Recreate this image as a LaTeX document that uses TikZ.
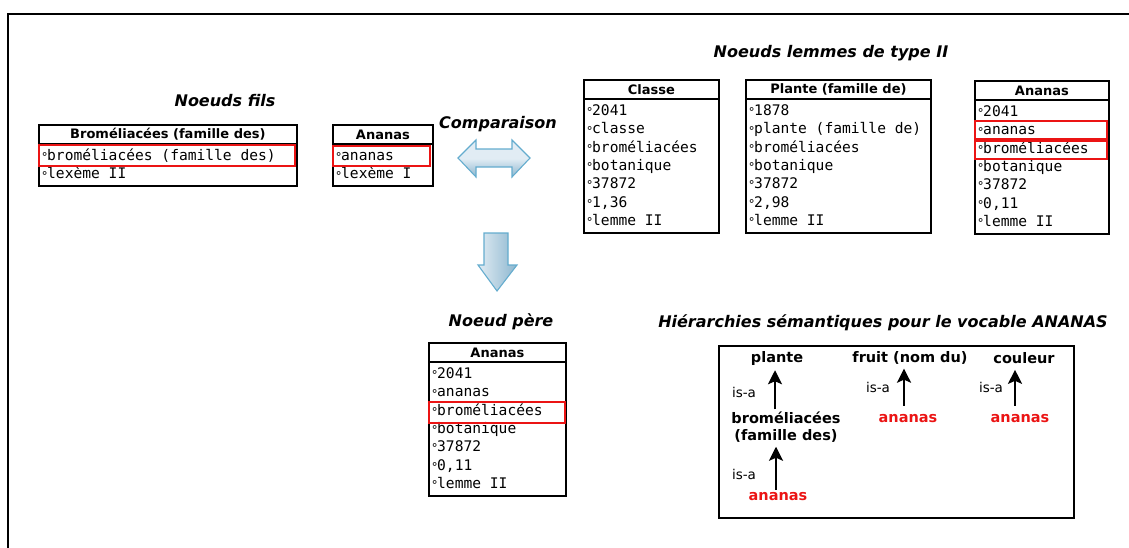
\documentclass[tikz,border=0pt]{standalone}
\usepackage{fontspec}
\setmainfont{DejaVu Sans}
\newfontfamily\mono{DejaVu Sans Mono}
\usetikzlibrary{arrows.meta}
\definecolor{arlight}{RGB}{225,236,244}
\definecolor{ardark}{RGB}{140,182,206}
\definecolor{aredge}{RGB}{100,172,206}
\definecolor{hired}{RGB}{235,20,20}
\newcommand\bl{\makebox[6pt][l]{\raisebox{-1.2pt}{\fontsize{12}{12}\selectfont °}}}
\tikzset{
 frame/.style={line width=2.2pt},
 titl/.style={font=\fontsize{16}{19}\selectfont\bfseries\itshape, inner sep=0pt},
 hdr/.style={font=\fontsize{13}{15}\selectfont\bfseries, inner sep=0pt},
 row/.style={font=\mono\fontsize{14.6}{16}\selectfont, inner sep=0pt, anchor=west, text height=10pt, text depth=3pt},
 boxline/.style={line width=1.8pt},
 redbox/.style={draw=hired, line width=1.9pt},
 hn/.style={font=\fontsize{14.5}{17.5}\selectfont\bfseries, inner sep=1pt, align=center},
 isa/.style={line width=2.4pt, -{Stealth[length=14pt,width=14pt,inset=3pt]}},
 isal/.style={font=\fontsize{13.5}{16}\selectfont, inner sep=0pt},
 bigarrow/.style={draw=aredge, line width=1.1pt},
}
\newcommand\ubox[7]{%
 \node[draw, boxline, anchor=north west, minimum width=#4pt, minimum height=#5pt, inner sep=0pt] (#1) at (#2,#3) {};
 \draw[boxline] ([yshift=-20pt]#1.north west) -- ([yshift=-20pt]#1.north east);
 \node[hdr] (#1-h) at ([yshift=-10.5pt]#1.north) {#6};
 \foreach \r [count=\i] in {#7} {\node[row] (#1-\i) at ([xshift=3pt,yshift={-33pt-(\i-1)*18.3pt}]#1.north west) {\bl\r};}
}
\begin{document}
\begin{tikzpicture}[x=1pt,y=-1pt]
\useasboundingbox (0,0) rectangle (1129,547);
\draw[frame] (8,552) |- (1134,14);

% titles
\node[titl] (tfils) at (225,101) {Noeuds fils};
\node[titl] (tcomp) at (498,124) {Comparaison};
\node[titl] (tlem) at (831,53) {Noeuds lemmes de type II};
\node[titl] (tpere) at (501,322) {Noeud père};
\node[titl] (thier) at (883,323) {Hiérarchies sémantiques pour le vocable ANANAS};

% child nodes
\ubox{fa}{38}{124}{258}{61}{Broméliacées (famille des)}{{broméliacées (famille des)},{lexème II}}
\ubox{fb}{332}{124}{100}{61}{Ananas}{{ananas},{lexème I}}
\draw[redbox] (39,145) rectangle (295,166);
\draw[redbox] (333,146) rectangle (430,166);

% lemma nodes type II
\ubox{cl}{583}{79}{135}{153}{Classe}{{2041},{classe},{broméliacées},{botanique},{37872},{1,36},{lemme II}}
\ubox{pl}{745}{79}{185}{153}{Plante (famille de)}{{1878},{plante (famille de)},{broméliacées},{botanique},{37872},{2,98},{lemme II}}
\ubox{an}{974}{80}{134}{153}{Ananas}{{2041},{ananas},{broméliacées},{botanique},{37872},{0,11},{lemme II}}
\draw[redbox] (975,121) rectangle (1107,139);
\draw[redbox] (975,141) rectangle (1107,159);

% father node
\ubox{pe}{428}{342}{137}{153}{Ananas}{{2041},{ananas},{broméliacées},{botanique},{37872},{0,11},{lemme II}}
\draw[redbox] (429,402) rectangle (565,423);

% comparison double arrow
\shade[top color=arlight, bottom color=ardark, middle color=arlight]
 (458,158) -- (476,140) -- (476,149) -- (512,149) -- (512,140) -- (530,158) -- (512,177) -- (512,167) -- (476,167) -- (476,177) -- cycle;
\draw[bigarrow] (458,158) -- (476,140) -- (476,149) -- (512,149) -- (512,140) -- (530,158) -- (512,177) -- (512,167) -- (476,167) -- (476,177) -- cycle;

% down arrow
\shade[left color=arlight, right color=ardark]
 (484,233) -- (508,233) -- (508,265) -- (517,265) -- (497,291) -- (478,265) -- (484,265) -- cycle;
\draw[bigarrow] (484,233) -- (508,233) -- (508,265) -- (517,265) -- (497,291) -- (478,265) -- (484,265) -- cycle;

% hierarchy box
\node[draw, boxline, anchor=north west, minimum width=355pt, minimum height=172pt, inner sep=0pt] (hbox) at (718,345) {};
\node[hn] (hpl) at (777,358) {plante};
\node[hn] (hfr) at (910,358) {fruit (nom du)};
\node[hn] (hco) at (1024,358) {couleur};
\node[hn] (hbr) at (786,427) {broméliacées\\(famille des)};
\node[hn, text=hired] (ha1) at (778,497) {ananas};
\node[hn, text=hired] (ha2) at (908,419) {ananas};
\node[hn, text=hired] (ha3) at (1020,419) {ananas};
\draw[isa] ([xshift=-2pt,yshift=2pt]ha1.north) -- ([xshift=-2pt,yshift=-3pt]ha1.north |- hbr.south);
\draw[isa] ([xshift=-11pt,yshift=1pt]hbr.north) -- ([xshift=-11pt,yshift=-4pt]hbr.north |- hpl.south);
\draw[isa] ([xshift=-4pt,yshift=8pt]ha2.north) -- ([xshift=-4pt,yshift=-3pt]ha2.north |- hfr.south);
\draw[isa] ([xshift=-5pt,yshift=8pt]ha3.north) -- ([xshift=-5pt,yshift=-5pt]ha3.north |- hco.south);
\node[isal] (l1) at (744,392) {is-a};
\node[isal] (l2) at (744,474) {is-a};
\node[isal] (l3) at (878,387) {is-a};
\node[isal] (l4) at (991,387) {is-a};
\end{tikzpicture}
\end{document}
